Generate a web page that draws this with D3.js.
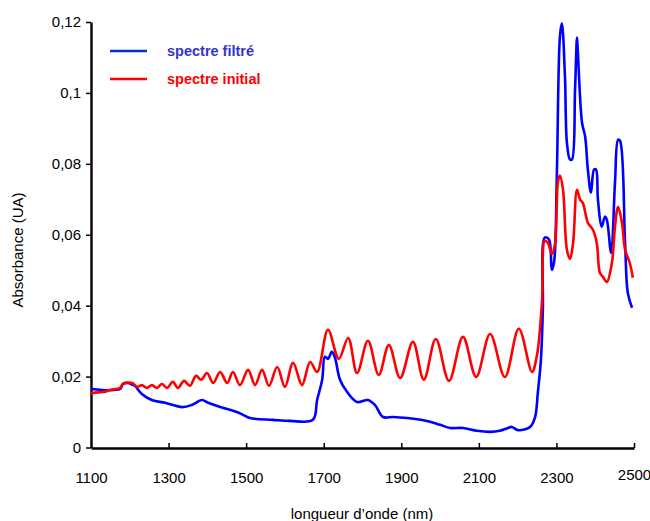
<!DOCTYPE html>
<html><head><meta charset="utf-8">
<script src="https://cdn.jsdelivr.net/npm/d3@7"></script>
<style>
body{margin:0;background:#fff;}
svg text{font-family:"Liberation Sans",Arial,sans-serif;}
</style></head>
<body><svg id="c" width="650" height="521"></svg>
<script>
// Wavelengths (nm) and absorbance values
const blueWl = [1100,1175,1182,1195,1208,1213,1231,1257,1291,1335,1360,1386,1402,1440,1476,1492,1510,1569,1613,1672,1683,1696,1703,1711,1721,1729,1742,1760,1786,1814,1832,1853,1879,1915,1966,2000,2026,2059,2095,2129,2154,2175,2185,2201,2232,2245,2252,2260,2265,2270,2281,2288,2294,2301,2309,2314,2322,2327,2335,2340,2348,2353,2355,2366,2374,2381,2389,2397,2402,2407,2417,2425,2430,2441,2451,2459,2464,2477,2484,2495];
const blueAbs = [0.0165,0.0165,0.0179,0.0182,0.0176,0.0174,0.0151,0.0134,0.0126,0.0114,0.0120,0.0134,0.0126,0.0112,0.0100,0.0092,0.0083,0.0078,0.0075,0.0078,0.0134,0.0191,0.0256,0.0250,0.0270,0.0253,0.0191,0.0157,0.0128,0.0134,0.0120,0.0086,0.0086,0.0083,0.0075,0.0064,0.0055,0.0055,0.0047,0.0044,0.0047,0.0055,0.0058,0.0049,0.0058,0.0086,0.0154,0.0247,0.0388,0.0592,0.0586,0.0501,0.0524,0.0764,0.1159,0.1196,0.1046,0.0860,0.0812,0.0812,0.1009,0.1156,0.1122,0.0916,0.0877,0.0784,0.0719,0.0784,0.0784,0.0699,0.0623,0.0651,0.0642,0.0549,0.0747,0.0868,0.0865,0.0577,0.0436,0.0394];
const redWl = [1100,1105,1136,1149,1175,1182,1206,1219,1231,1244,1257,1270,1283,1296,1311,1324,1340,1355,1371,1384,1399,1415,1433,1451,1466,1484,1505,1523,1541,1559,1580,1600,1621,1644,1665,1683,1711,1739,1763,1786,1814,1842,1868,1897,1930,1958,1989,2023,2059,2093,2129,2167,2203,2237,2250,2263,2270,2278,2288,2296,2304,2309,2317,2327,2335,2343,2353,2361,2368,2381,2394,2404,2412,2420,2430,2443,2451,2459,2469,2477,2489,2497];
const redAbs = [0.0151,0.0154,0.0157,0.0162,0.0168,0.0179,0.0182,0.0171,0.0176,0.0168,0.0176,0.0168,0.0179,0.0168,0.0185,0.0168,0.0188,0.0174,0.0202,0.0191,0.0210,0.0182,0.0213,0.0182,0.0213,0.0176,0.0219,0.0176,0.0219,0.0174,0.0227,0.0171,0.0239,0.0176,0.0241,0.0213,0.0332,0.0250,0.0309,0.0210,0.0301,0.0205,0.0289,0.0196,0.0298,0.0191,0.0306,0.0188,0.0312,0.0199,0.0320,0.0199,0.0335,0.0213,0.0261,0.0416,0.0583,0.0577,0.0546,0.0572,0.0750,0.0767,0.0727,0.0558,0.0532,0.0577,0.0727,0.0699,0.0690,0.0634,0.0614,0.0577,0.0493,0.0481,0.0467,0.0521,0.0623,0.0679,0.0634,0.0558,0.0521,0.0479];
const xTicks = [1100,1300,1500,1700,1900,2100,2300,2500];
const yTicks = [0,0.02,0.04,0.06,0.08,0.1,0.12];
const seriesNames = ["spectre filtré","spectre initial"];

const svg = d3.select("#c");
const x = d3.scaleLinear().domain([1100,2500]).range([91,634]);
const y = d3.scaleLinear().domain([0,0.12]).range([447.5,22]);
const fmt = d => d===0 ? "0" : String(+d.toFixed(2)).replace(".",",");

// Y axis
const ya = svg.append("g").attr("transform","translate(91,0)")
  .call(d3.axisLeft(y).tickValues(yTicks).tickFormat(fmt).tickSizeInner(5).tickSizeOuter(0).tickPadding(5));
ya.select(".domain").attr("stroke","#000").attr("stroke-width",2.4);
ya.selectAll(".tick line").attr("stroke","#000").attr("stroke-width",1.5);
ya.selectAll(".tick text").attr("font-size",15).attr("fill","#000").attr("font-family","Liberation Sans, Arial, sans-serif");

// X axis (ticks point inward)
const xa = svg.append("g").attr("transform","translate(0,448)")
  .call(d3.axisBottom(x).tickValues(xTicks).tickFormat(d3.format("d")).tickSizeInner(-5).tickSizeOuter(0).tickPadding(24));
xa.select(".domain").attr("stroke","#000").attr("stroke-width",2.4);
xa.selectAll(".tick line").attr("stroke","#000").attr("stroke-width",1.5);
xa.selectAll(".tick text").attr("font-size",15).attr("fill","#000").attr("font-family","Liberation Sans, Arial, sans-serif")
  .attr("y", d => d===2500 ? 21 : 24);

// Axis titles
svg.append("text").attr("transform","translate(23,250) rotate(-90)").attr("text-anchor","middle")
  .attr("font-size",15).text("Absorbance (UA)");
svg.append("text").attr("x",362).attr("y",519).attr("text-anchor","middle")
  .attr("font-size",15).text("longueur d’onde (nm)");

// Lines
const line = d3.line().x(d=>x(d[0])).y(d=>y(d[1])).curve(d3.curveCatmullRom.alpha(0.5));
const redData = redWl.map((w,i)=>[w,redAbs[i]]);
const blueData = blueWl.map((w,i)=>[w,blueAbs[i]]);
svg.append("path").datum(blueData).attr("d",line).attr("fill","none").attr("stroke","#0000ff").attr("stroke-width",2.6).attr("stroke-linejoin","round");
svg.append("path").datum(redData).attr("d",line).attr("fill","none").attr("stroke","#ff0000").attr("stroke-width",2.6).attr("stroke-linejoin","round");

// Legend
const leg = [{name:seriesNames[0],line:"#0033cc",text:"#3333cc",y:51},{name:seriesNames[1],line:"#ff0000",text:"#ff0000",y:79}];
leg.forEach(l=>{
  svg.append("line").attr("x1",110).attr("x2",147).attr("y1",l.y).attr("y2",l.y).attr("stroke",l.line).attr("stroke-width",2.4);
  svg.append("text").attr("x",167).attr("y",l.y+5).attr("font-size",14.5).attr("font-weight","bold").attr("fill",l.text).text(l.name);
});
</script></body></html>
